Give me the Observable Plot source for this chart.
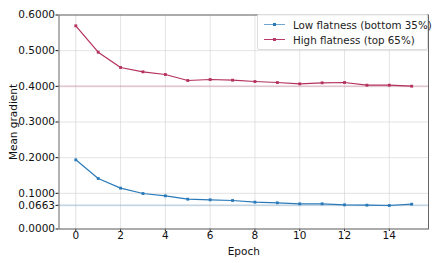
<!DOCTYPE html>
<html><head><meta charset="utf-8">
<script src="https://cdn.jsdelivr.net/npm/d3@7"></script>
<script src="https://cdn.jsdelivr.net/npm/@observablehq/plot@0.6"></script>
<style>
body{margin:0;background:#fff;}
#wrap{position:relative;width:439px;height:263px;font-family:"DejaVu Sans",sans-serif;}
#legend{position:absolute;left:257px;top:14px;width:171px;height:36px;border:1px solid #ddd;border-radius:2px;background:rgba(255,255,255,0.85);font-size:10.3px;color:#222;box-sizing:border-box;padding:2px 0 0 6px;white-space:nowrap;}
.row{display:flex;align-items:center;height:15px;}
.sw{position:relative;width:21px;height:10px;margin-right:8px;flex:none;}
.sw .ln{position:absolute;left:0;top:4.5px;width:21px;height:1.3px;}
.sw .pt{position:absolute;left:9px;top:3.5px;width:3px;height:3px;}
</style>
</head><body>
<div id="wrap"><div id="chart"></div>
<div id="legend">
<div class="row"><div class="sw"><div class="ln" style="background:#6fa6d2"></div><div class="pt" style="background:#2a7aba"></div></div>Low flatness (bottom 35%)</div>
<div class="row"><div class="sw"><div class="ln" style="background:#b83a6a"></div><div class="pt" style="background:#b83a6a"></div></div>High flatness (top 65%)</div>
</div></div>
<script>
const epochs = [0,1,2,3,4,5,6,7,8,9,10,11,12,13,14,15];
const lowFlat = [0.194,0.1416,0.1145,0.0995,0.093,0.0836,0.0818,0.0799,0.0752,0.0734,0.0706,0.0706,0.0678,0.0668,0.0659,0.0696];
const highFlat = [0.5697,0.4957,0.4528,0.4407,0.4331,0.4163,0.4191,0.4172,0.4135,0.4107,0.4070,0.4098,0.4107,0.4032,0.4032,0.4004];
const yTicks = [0,0.0663,0.1,0.2,0.3,0.4,0.5,0.6];
const xTicks = [0,2,4,6,8,10,12,14];
const refLow = 0.0663;
const refHigh = 0.4;

const lowData = epochs.map((e,i)=>({epoch:e, value:lowFlat[i]}));
const highData = epochs.map((e,i)=>({epoch:e, value:highFlat[i]}));
const blue = "#2a7aba", pink = "#b5305f";

const chart = Plot.plot({
  width:439, height:263,
  marginLeft:58.5, marginRight:11, marginTop:14.5, marginBottom:34.5,
  style:{fontFamily:"DejaVu Sans, sans-serif", fontSize:"10.5px", color:"#111", background:"#fff"},
  x:{domain:[-0.75,15.75], ticks:xTicks, tickSize:2.5, tickPadding:0, label:"Epoch", labelAnchor:"center", labelOffset:26, labelArrow:false},
  y:{domain:[0,0.6], ticks:yTicks, tickSize:3, tickPadding:1, tickFormat:d3.format(".4f"), label:"Mean gradient", labelAnchor:"center", labelOffset:49, labelArrow:false},
  marks:[
    Plot.gridX(xTicks,{stroke:"#ccc", strokeOpacity:0.7, strokeWidth:0.8}),
    Plot.gridY(yTicks,{stroke:"#ccc", strokeOpacity:0.7, strokeWidth:0.8}),
    Plot.ruleY([refHigh],{stroke:pink, strokeOpacity:0.35, strokeWidth:2, strokeDasharray:"1,1"}),
    Plot.ruleY([refLow],{stroke:blue, strokeOpacity:0.35, strokeWidth:2, strokeDasharray:"1,1"}),
    Plot.line(highData,{x:"epoch", y:"value", stroke:pink, strokeWidth:1.2}),
    Plot.dot(highData,{x:"epoch", y:"value", fill:pink, symbol:"square", r:1.6}),
    Plot.line(lowData,{x:"epoch", y:"value", stroke:blue, strokeWidth:1.2}),
    Plot.dot(lowData,{x:"epoch", y:"value", fill:blue, symbol:"square", r:1.6}),
    Plot.frame({stroke:"#666", strokeWidth:1})
  ]
});
document.getElementById("chart").appendChild(chart);
</script>
</body></html>
